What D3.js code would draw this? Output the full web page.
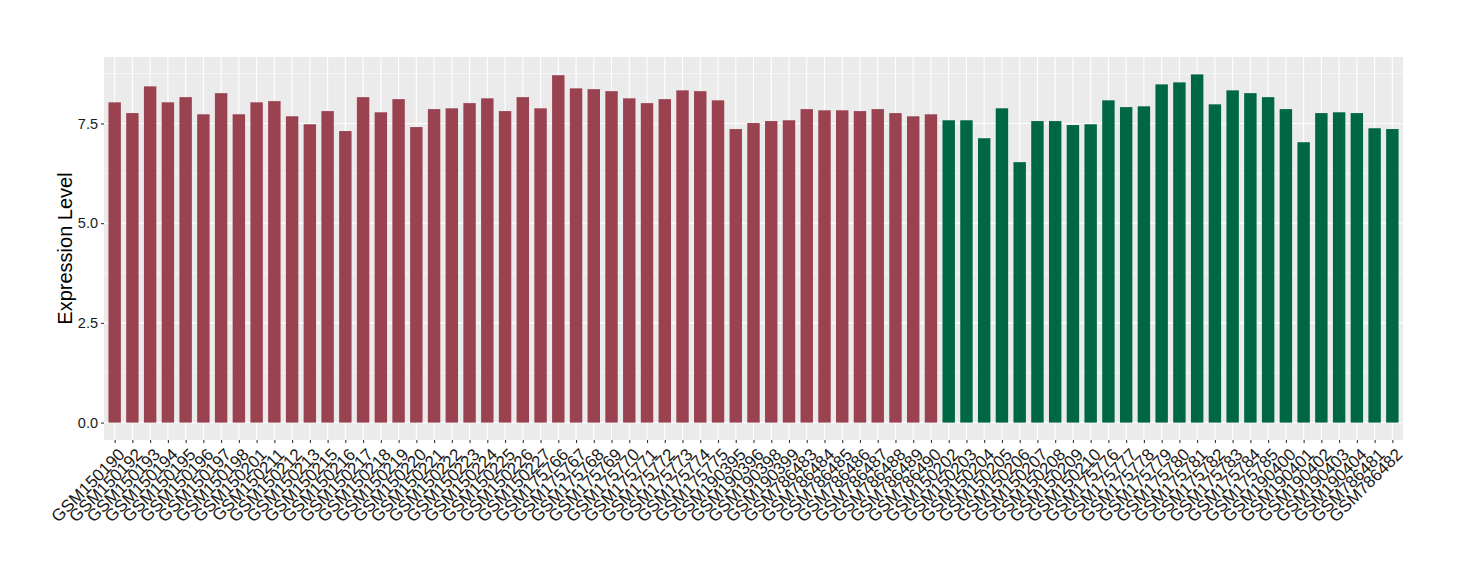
<!DOCTYPE html>
<html>
<head>
<meta charset="utf-8">
<script src="https://cdn.jsdelivr.net/npm/d3@7"></script>
<style>
  body { margin: 0; background: #fff; }
  svg { display: block; font-family: "Liberation Sans", Arial, sans-serif; }
</style>
</head>
<body>
<svg id="chart" width="1460" height="580"></svg>
<script>
const samples = [
  "GSM150190","GSM150192","GSM150193","GSM150194","GSM150195","GSM150196","GSM150197","GSM150198",
  "GSM150201","GSM150211","GSM150212","GSM150213","GSM150215","GSM150216","GSM150217","GSM150218",
  "GSM150219","GSM150220","GSM150221","GSM150222","GSM150223","GSM150224","GSM150225","GSM150226",
  "GSM150227","GSM175766","GSM175767","GSM175768","GSM175769","GSM175770","GSM175771","GSM175772",
  "GSM175773","GSM175774","GSM175775","GSM190395","GSM190396","GSM190398","GSM190399","GSM786483",
  "GSM786484","GSM786485","GSM786486","GSM786487","GSM786488","GSM786489","GSM786490",
  "GSM150202","GSM150203","GSM150204","GSM150205","GSM150206","GSM150207","GSM150208","GSM150209",
  "GSM150210","GSM175776","GSM175777","GSM175778","GSM175779","GSM175780","GSM175781","GSM175782",
  "GSM175783","GSM175784","GSM175785","GSM190400","GSM190401","GSM190402","GSM190403","GSM190404",
  "GSM786481","GSM786482"
];
const values = [
  8.03,7.76,8.43,8.03,8.16,7.73,8.26,7.73,
  8.03,8.06,7.68,7.48,7.81,7.31,8.16,7.78,
  8.11,7.41,7.86,7.88,8.01,8.13,7.81,8.16,
  7.88,8.71,8.38,8.36,8.31,8.13,8.01,8.11,
  8.33,8.31,8.08,7.36,7.51,7.56,7.58,7.86,
  7.83,7.83,7.81,7.86,7.76,7.68,7.73,
  7.58,7.58,7.13,7.88,6.53,7.56,7.56,7.46,
  7.48,8.08,7.91,7.93,8.48,8.53,8.73,7.98,
  8.33,8.26,8.16,7.86,7.03,7.76,7.78,7.76,
  7.38,7.36
];
const groups = samples.map((s, i) => i < 47 ? "A" : "B");
const groupColors = { A: "#9a4250", B: "#006744" };
const yTicks = [0, 2.5, 5, 7.5];
const yMinor = [1.25, 3.75, 6.25, 8.75];
const yTitle = "Expression Level";

const svg = d3.select("#chart");
const panel = { left: 104, right: 1403, top: 57, bottom: 440 };

const x = d3.scalePoint()
  .domain(samples)
  .range([panel.left, panel.right])
  .padding(0.6);
const step = x.step();
const barW = step * 0.7;

const vmax = d3.max(values);
const y = d3.scaleLinear()
  .domain([-0.05 * vmax, 1.05 * vmax])
  .range([panel.bottom, panel.top]);

svg.append("rect")
  .attr("x", panel.left).attr("y", panel.top)
  .attr("width", panel.right - panel.left)
  .attr("height", panel.bottom - panel.top)
  .attr("fill", "#ebebeb");

const grid = svg.append("g");
grid.selectAll(".minor").data(yMinor).join("line")
  .attr("x1", panel.left).attr("x2", panel.right)
  .attr("y1", d => y(d)).attr("y2", d => y(d))
  .attr("stroke", "#fff").attr("stroke-width", 0.55);
grid.selectAll(".major").data(yTicks).join("line")
  .attr("x1", panel.left).attr("x2", panel.right)
  .attr("y1", d => y(d)).attr("y2", d => y(d))
  .attr("stroke", "#fff").attr("stroke-width", 1.1);
grid.selectAll(".vmajor").data(samples).join("line")
  .attr("x1", d => x(d)).attr("x2", d => x(d))
  .attr("y1", panel.top).attr("y2", panel.bottom)
  .attr("stroke", "#fff").attr("stroke-width", 1.1);

svg.append("g").selectAll("rect").data(samples).join("rect")
  .attr("x", d => x(d) - barW / 2)
  .attr("width", barW)
  .attr("y", (d, i) => y(values[i]))
  .attr("height", (d, i) => y(0) - y(values[i]))
  .attr("fill", (d, i) => groupColors[groups[i]]);

const yAxis = d3.axisLeft(y).tickValues(yTicks).tickFormat(d3.format(".1f")).tickSizeOuter(0).tickSize(3).tickPadding(3);
const gy = svg.append("g").attr("transform", `translate(${panel.left},0)`).call(yAxis);
gy.select(".domain").remove();
gy.selectAll(".tick line").attr("stroke", "#333").attr("stroke-width", 1.1);
gy.selectAll(".tick text").attr("fill", "#1a1a1a").style("font-size", "14.5px")
  .style("font-family", "'Liberation Sans', Arial, sans-serif");

const xAxis = d3.axisBottom(x).tickSizeOuter(0).tickSize(3).tickPadding(3);
const gx = svg.append("g").attr("transform", `translate(0,${panel.bottom})`).call(xAxis);
gx.select(".domain").remove();
gx.selectAll(".tick line").attr("stroke", "#333").attr("stroke-width", 1.1);
gx.selectAll(".tick text")
  .attr("fill", "#1a1a1a")
  .style("font-size", "17px")
  .style("font-family", "'Liberation Sans', Arial, sans-serif")
  .attr("text-anchor", "end")
  .attr("y", 0).attr("dy", "0.72em")
  .attr("transform", "translate(2,7) rotate(-45)");

svg.append("text")
  .attr("transform", `translate(72,${(panel.top + panel.bottom) / 2}) rotate(-90)`)
  .attr("text-anchor", "middle")
  .style("font-size", "20px")
  .attr("fill", "#000")
  .text(yTitle);
</script>
</body>
</html>
